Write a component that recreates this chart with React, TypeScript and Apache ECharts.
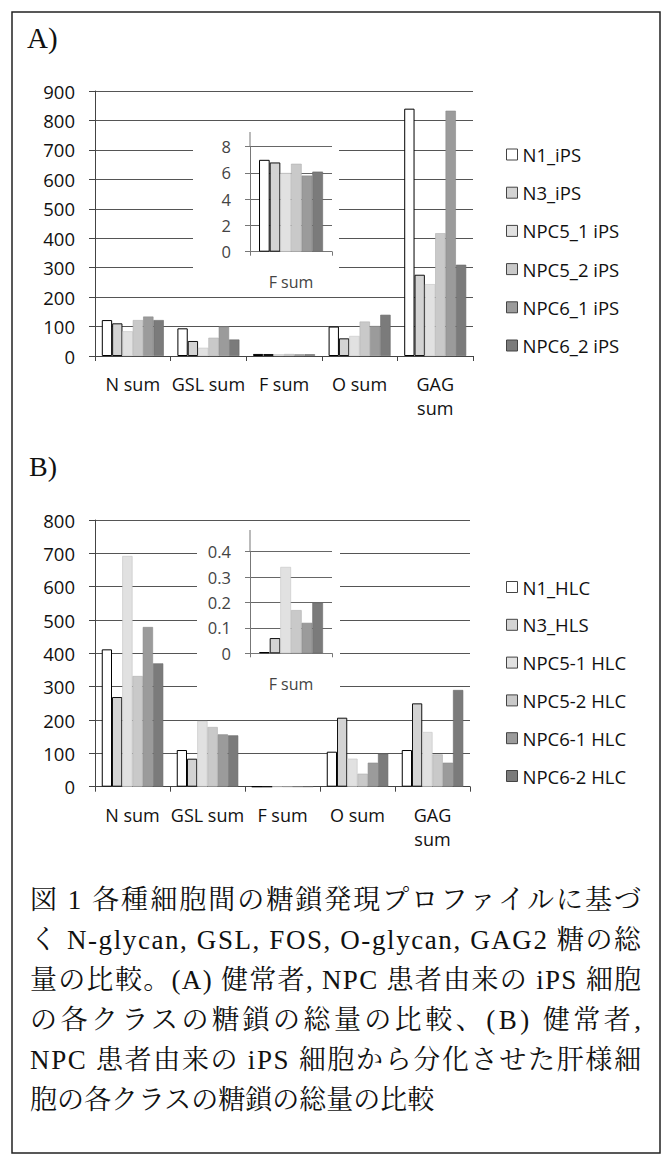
import React, { useEffect, useRef } from 'react';
import * as echarts from 'echarts';

// ---------- data ----------
const categories = ['N sum', 'GSL sum', 'F sum', 'O sum', 'GAG sum'];
const insetCategories = ['F sum'];

const namesA = ['N1_iPS', 'N3_iPS', 'NPC5_1 iPS', 'NPC5_2 iPS', 'NPC6_1 iPS', 'NPC6_2 iPS'];
const namesB = ['N1_HLC', 'N3_HLS', 'NPC5-1 HLC', 'NPC5-2 HLC', 'NPC6-1 HLC', 'NPC6-2 HLC'];

// Panel A (iPS cells): N sum, GSL sum, F sum, O sum, GAG sum
const n1iPS = [122, 94, 7.0, 100, 840];
const n3iPS = [111, 51, 6.8, 60, 276];
const npc51iPS = [84, 28, 6.0, 68, 244];
const npc52iPS = [122, 62, 6.7, 117, 417];
const npc61iPS = [134, 100, 5.8, 102, 833];
const npc62iPS = [122, 56, 6.1, 140, 310];

// Panel B (hepatocyte-like cells)
const n1HLC = [412, 110, 0.005, 105, 110];
const n3HLS = [269, 84, 0.06, 207, 250];
const npc51HLC = [692, 197, 0.34, 84, 164];
const npc52HLC = [332, 179, 0.17, 39, 97];
const npc61HLC = [479, 157, 0.12, 72, 72];
const npc62HLC = [370, 154, 0.2, 99, 290];

const valuesA = [n1iPS, n3iPS, npc51iPS, npc52iPS, npc61iPS, npc62iPS];
const valuesB = [n1HLC, n3HLS, npc51HLC, npc52HLC, npc61HLC, npc62HLC];
const fIndex = 2;

const captionLines = [
  '図 1 各種細胞間の糖鎖発現プロファイルに基づ',
  'く N-glycan, GSL, FOS, O-glycan, GAG2 糖の総',
  '量の比較。(A) 健常者, NPC 患者由来の iPS 細胞',
  'の各クラスの糖鎖の総量の比較、(B) 健常者,',
  'NPC 患者由来の iPS 細胞から分化させた肝様細',
  '胞の各クラスの糖鎖の総量の比較',
];

// ---------- styles ----------
const fills = ['#ffffff', '#d3d3d3', '#e1e1e1', '#c9c9c9', '#9b9b9b', '#7b7b7b'];
const borders = ['#000000', '#111111', '#c4c4c4', '#b0b0b0', '#8a8a8a', '#6a6a6a'];
const borderWidths = [1, 1, 0.6, 0.6, 0.6, 0.6];
const SANS = "'Open Sans', 'Noto Sans', sans-serif";
const SERIF = "'Liberation Serif', 'Noto Serif CJK JP', 'Noto Sans CJK JP', serif";
const AXIS_COLOR = '#444';
const GRID_COLOR = '#555';

function mainXAxis(gridIndex: number) {
  return {
    type: 'category',
    gridIndex,
    data: categories,
    axisLine: { show: true, lineStyle: { color: AXIS_COLOR, width: 1 } },
    axisTick: { show: true, length: 5, lineStyle: { color: AXIS_COLOR } },
    axisLabel: {
      fontSize: 18,
      fontFamily: SANS,
      color: '#111',
      margin: 16,
      lineHeight: 24,
      interval: 0,
      formatter: (v: string) => (v === 'GAG sum' ? 'GAG\nsum' : v),
    },
    splitLine: { show: false },
  };
}

function mainYAxis(gridIndex: number, max: number) {
  return {
    type: 'value',
    gridIndex,
    min: 0,
    max,
    interval: 100,
    axisLine: { show: true, lineStyle: { color: AXIS_COLOR, width: 1 } },
    axisTick: { show: true, length: 6, lineStyle: { color: AXIS_COLOR } },
    axisLabel: { fontSize: 18.5, fontFamily: SANS, color: '#111', margin: 20 },
    splitLine: { show: true, lineStyle: { color: GRID_COLOR, width: 1 } },
  };
}

function insetXAxis(gridIndex: number, margin: number) {
  return {
    type: 'category',
    gridIndex,
    data: insetCategories,
    z: 10,
    axisLine: { show: true, lineStyle: { color: '#777', width: 1 } },
    axisTick: { show: true, length: 4, lineStyle: { color: '#777' } },
    axisLabel: { fontSize: 16, fontFamily: SANS, color: '#444', margin },
    splitLine: { show: false },
  };
}

function insetYAxis(gridIndex: number, max: number, interval: number) {
  return {
    type: 'value',
    gridIndex,
    min: 0,
    max,
    interval,
    z: 10,
    axisLine: { show: true, lineStyle: { color: '#777', width: 1 } },
    axisTick: { show: true, length: 5, lineStyle: { color: '#777' } },
    axisLabel: { fontSize: 16.5, fontFamily: SANS, color: '#444', margin: 19 },
    splitLine: { show: true, lineStyle: { color: '#666', width: 1 } },
  };
}

function buildSeries(names: string[], values: number[][], mainX: number, insetX: number) {
  const out: any[] = [];
  names.forEach((name, i) => {
    const itemStyle = { color: fills[i], borderColor: borders[i], borderWidth: borderWidths[i] };
    out.push({
      type: 'bar',
      name,
      xAxisIndex: mainX,
      yAxisIndex: mainX,
      data: values[i],
      barGap: '0%',
      barCategoryGap: '18%',
      itemStyle,
      z: 2,
    });
    out.push({
      type: 'bar',
      name,
      xAxisIndex: insetX,
      yAxisIndex: insetX,
      data: [values[i][fIndex]],
      barGap: '0%',
      barCategoryGap: '22%',
      itemStyle,
      z: 11,
    });
  });
  return out;
}

function legend(names: string[], top: number, gap: number) {
  return {
    data: names,
    orient: 'vertical',
    left: 506,
    top,
    icon: 'rect',
    itemWidth: 11,
    itemHeight: 11,
    itemGap: gap,
    padding: 0,
    itemStyle: { borderColor: '#444', borderWidth: 1 },
    textStyle: { fontSize: 18.5, fontFamily: SANS, color: '#111', lineHeight: 18 },
  };
}

export default function App() {
  const ref = useRef<HTMLDivElement>(null);

  useEffect(() => {
    if (!ref.current) return;
    const chart = echarts.init(ref.current, undefined, { renderer: 'svg' });

    const captionY0 = 900;
    const captionStep = 40;

    const graphics: any[] = [
      {
        type: 'rect',
        shape: { x: 12, y: 12, width: 648, height: 1141 },
        style: { fill: 'none', stroke: '#222', lineWidth: 1.5 },
        z: 1,
      },
      // white backgrounds of the insets
      { type: 'rect', shape: { x: 193, y: 125, width: 146, height: 160 }, style: { fill: '#fff' }, z: 5 },
      { type: 'rect', shape: { x: 197, y: 525, width: 143, height: 180 }, style: { fill: '#fff' }, z: 5 },
      // inset axis lines extending above the top tick
      { type: 'line', shape: { x1: 250, y1: 132, x2: 250, y2: 147 }, style: { stroke: '#777', lineWidth: 1 }, z: 12 },
      { type: 'line', shape: { x1: 250, y1: 530, x2: 250, y2: 552 }, style: { stroke: '#777', lineWidth: 1 }, z: 12 },
      {
        type: 'text', x: 27, y: 38, z: 12,
        style: { text: 'A)', fontSize: 29, fontFamily: SERIF, fill: '#111', textVerticalAlign: 'middle' },
      },
      {
        type: 'text', x: 29, y: 466, z: 12,
        style: { text: 'B)', fontSize: 28, fontFamily: SERIF, fill: '#111', textVerticalAlign: 'middle' },
      },
    ];
    captionLines.forEach((line, k) => {
      graphics.push({
        type: 'text',
        x: 30,
        y: captionY0 + captionStep * k,
        z: 12,
        style: { text: line, fontSize: 27, fontFamily: SERIF, fill: '#111', textVerticalAlign: 'middle' },
      });
    });

    const option: any = {
      animation: false,
      backgroundColor: '#ffffff',
      grid: [
        { left: 95, top: 91, width: 378, height: 265 },
        { left: 250, top: 146.7, width: 82, height: 105 },
        { left: 95, top: 520, width: 375, height: 266.7 },
        { left: 250, top: 551.7, width: 82, height: 101.6 },
      ],
      xAxis: [mainXAxis(0), insetXAxis(1, 22), mainXAxis(2), insetXAxis(3, 23)],
      yAxis: [mainYAxis(0, 900), insetYAxis(1, 8, 2), mainYAxis(2, 800), insetYAxis(3, 0.4, 0.1)],
      legend: [legend(namesA, 145, 19.2), legend(namesB, 577.5, 18.8)],
      series: [...buildSeries(namesA, valuesA, 0, 1), ...buildSeries(namesB, valuesB, 2, 3)],
      graphic: graphics,
    };

    chart.setOption(option);

    const justify = () => {
      const root = ref.current;
      if (!root) return;
      root.querySelectorAll('text').forEach((t) => {
        const idx = captionLines.indexOf((t.textContent || '').trim());
        if (idx >= 0 && idx < captionLines.length - 1) {
          t.setAttribute('textLength', '611');
          t.setAttribute('lengthAdjust', 'spacing');
        }
      });
    };
    justify();
    chart.on('finished', justify);
    const timer = setTimeout(justify, 30);

    return () => {
      clearTimeout(timer);
      chart.dispose();
    };
  }, []);

  return (
    <div
      ref={ref}
      style={{ position: 'absolute', left: 0, top: 0, width: 669, height: 1158, background: '#fff' }}
    />
  );
}
